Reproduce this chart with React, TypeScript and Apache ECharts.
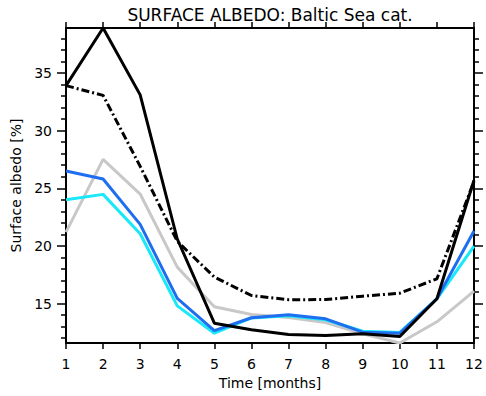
import React, { useEffect, useRef } from "react";
import * as echarts from "echarts";

const months = [1, 2, 3, 4, 5, 6, 7, 8, 9, 10, 11, 12];
const blackSolid = [33.9, 38.9, 33.1, 20.6, 13.3, 12.73, 12.32, 12.23, 12.38, 12.14, 15.42, 25.69];
const blackDashDot = [33.9, 33.06, 26.9, 20.4, 17.3, 15.7, 15.33, 15.35, 15.64, 15.9, 17.15, 25.6];
const gray = [21.2, 27.5, 24.5, 18.16, 14.72, 14.05, 13.8, 13.35, 12.38, 11.58, 13.42, 16.08];
const blue = [26.5, 25.8, 21.87, 15.45, 12.66, 13.77, 14.03, 13.68, 12.52, 12.43, 15.42, 21.29];
const cyan = [24.0, 24.47, 21.06, 14.8, 12.43, 13.75, 13.95, 13.6, 12.6, 12.5, 15.4, 19.98];

const yMajor = [15, 20, 25, 30, 35];
const yMinor = [12, 13, 14, 16, 17, 18, 19, 21, 22, 23, 24, 26, 27, 28, 29, 31, 32, 33, 34, 36, 37, 38];
const Y_MIN = 11.58;
const Y_MAX = 38.9;

const FONT = "DejaVu Sans";

function pts(v: number[]) {
  return months.map((m, i) => [m, v[i]]);
}

export default function App() {
  const ref = useRef<HTMLDivElement>(null);
  useEffect(() => {
    if (!ref.current) return;
    const chart = echarts.init(ref.current, undefined, { renderer: "svg" });
    const lineAxis = { show: true, lineStyle: { color: "#000", width: 2 } };
    const yBase = (position: string, major: boolean, labels: boolean, name?: string) => ({
      type: "value",
      min: Y_MIN,
      max: Y_MAX,
      position,
      name,
      nameLocation: "middle",
      nameGap: 41,
      nameTextStyle: { fontFamily: FONT, fontSize: 14, color: "#000" },
      axisLine: lineAxis,
      splitLine: { show: false },
      axisTick: {
        show: true,
        inside: false,
        length: major ? 9 : 5,
        lineStyle: { color: "#000", width: 1.5 },
        customValues: major ? yMajor : yMinor,
      },
      axisLabel: {
        show: labels,
        customValues: yMajor,
        margin: 14,
        fontFamily: FONT,
        fontSize: 14,
        color: "#000",
      },
    });
    const xBase = (position: string, labels: boolean, name?: string) => ({
      type: "value",
      min: 1,
      max: 12,
      interval: 1,
      position,
      name,
      nameLocation: "middle",
      nameGap: 32,
      nameTextStyle: { fontFamily: FONT, fontSize: 14, color: "#000" },
      axisLine: lineAxis,
      splitLine: { show: false },
      axisTick: { show: true, inside: false, length: 6, lineStyle: { color: "#000", width: 1.5 } },
      axisLabel: { show: labels, margin: 14, fontFamily: FONT, fontSize: 14, color: "#000" },
    });
    const mk = (data: number[], color: string, type: any, z: number) => ({
      type: "line",
      data: pts(data),
      xAxisIndex: 0,
      yAxisIndex: 0,
      symbol: "none",
      z,
      lineStyle: { color, width: 3, type },
    });
    chart.setOption({
      animation: false,
      backgroundColor: "#fff",
      grid: { left: 66, right: 12, top: 28, bottom: 53 },
      graphic: [
        {
          type: "text",
          x: 270,
          y: 15,
          style: {
            text: "SURFACE ALBEDO: Baltic Sea cat.",
            fontFamily: FONT,
            fontSize: 17,
            fill: "#000",
            textAlign: "center",
            textVerticalAlign: "middle",
          },
        },
      ],
      xAxis: [xBase("bottom", true, "Time [months]"), xBase("top", false)],
      yAxis: [
        yBase("left", true, true, "Surface albedo [%]"),
        yBase("left", false, false),
        yBase("right", true, false),
        yBase("right", false, false),
      ],
      series: [
        mk(gray, "#c8c8c8", "solid", 2),
        mk(cyan, "#18e8f8", "solid", 3),
        mk(blue, "#1e6ef0", "solid", 4),
        mk(blackSolid, "#000", "solid", 5),
        mk(blackDashDot, "#000", [8, 3, 2, 3], 6),
      ],
    });
    return () => chart.dispose();
  }, []);
  return <div ref={ref} style={{ width: 486, height: 396, position: "absolute", left: 0, top: 0 }} />;
}
